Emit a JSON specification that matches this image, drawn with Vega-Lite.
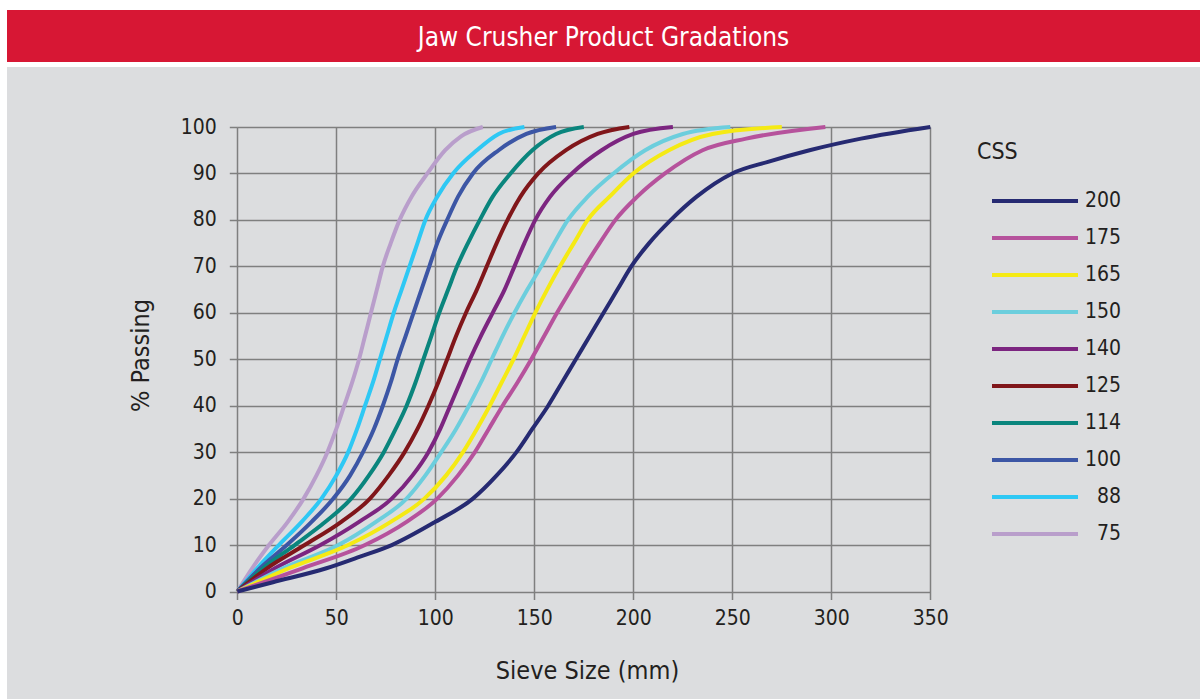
{
  "$schema": "https://vega.github.io/schema/vega-lite/v6.json",
  "background": "white",
  "padding": {"left": 7, "top": 10, "right": 0, "bottom": 0},
  "spacing": 5,
  "config": {"view": {"stroke": null}, "font": "Liberation Sans Narrow, DejaVu Sans Condensed, sans-serif"},
  "vconcat": [
    {
      "width": 1193,
      "height": 52,
      "view": {"fill": "#d71734", "stroke": null},
      "data": {"values": [{"t": "Jaw Crusher Product Gradations"}]},
      "mark": {"type": "text", "color": "white", "fontSize": 26, "dy": 2, "font": "Liberation Sans Narrow, DejaVu Sans Condensed, sans-serif", "baseline": "middle", "align": "center"},
      "encoding": {"text": {"field": "t", "type": "nominal"}}
    },
    {
      "width": 1193,
      "height": 632,
      "view": {"fill": "#dcdddf", "stroke": null},
      "data": {"values": [
        {"css":"75","size":0,"passing":0},{"css":"75","size":7.5,"passing":5},{"css":"75","size":16,"passing":10},{"css":"75","size":25.5,"passing":15},{"css":"75","size":33.5,"passing":20},{"css":"75","size":40,"passing":25},{"css":"75","size":45.5,"passing":30},{"css":"75","size":50,"passing":35},{"css":"75","size":54,"passing":40},{"css":"75","size":58,"passing":45},{"css":"75","size":61.5,"passing":50},{"css":"75","size":64.5,"passing":55},{"css":"75","size":67.5,"passing":60},{"css":"75","size":70.5,"passing":65},{"css":"75","size":73.5,"passing":70},{"css":"75","size":77.5,"passing":75},{"css":"75","size":82,"passing":80},{"css":"75","size":88,"passing":85},{"css":"75","size":96,"passing":90},{"css":"75","size":105,"passing":95},{"css":"75","size":113,"passing":98},{"css":"75","size":124,"passing":100},
        {"css":"88","size":0,"passing":0},{"css":"88","size":10,"passing":5},{"css":"88","size":21,"passing":10},{"css":"88","size":32.5,"passing":15},{"css":"88","size":42.5,"passing":20},{"css":"88","size":50,"passing":25},{"css":"88","size":56,"passing":30},{"css":"88","size":60.5,"passing":35},{"css":"88","size":64.5,"passing":40},{"css":"88","size":68.5,"passing":45},{"css":"88","size":72,"passing":50},{"css":"88","size":75.5,"passing":55},{"css":"88","size":79,"passing":60},{"css":"88","size":83,"passing":65},{"css":"88","size":87,"passing":70},{"css":"88","size":91,"passing":75},{"css":"88","size":95,"passing":80},{"css":"88","size":101,"passing":85},{"css":"88","size":109,"passing":90},{"css":"88","size":121,"passing":95},{"css":"88","size":132,"passing":98.5},{"css":"88","size":145,"passing":100},
        {"css":"100","size":0,"passing":0},{"css":"100","size":11.5,"passing":5},{"css":"100","size":25,"passing":10},{"css":"100","size":37.5,"passing":15},{"css":"100","size":48.5,"passing":20},{"css":"100","size":57,"passing":25},{"css":"100","size":63.5,"passing":30},{"css":"100","size":69,"passing":35},{"css":"100","size":73.5,"passing":40},{"css":"100","size":77.5,"passing":45},{"css":"100","size":81,"passing":50},{"css":"100","size":85,"passing":55},{"css":"100","size":89,"passing":60},{"css":"100","size":93,"passing":65},{"css":"100","size":97,"passing":70},{"css":"100","size":101,"passing":75},{"css":"100","size":106,"passing":80},{"css":"100","size":111.5,"passing":85},{"css":"100","size":119,"passing":90},{"css":"100","size":132,"passing":95},{"css":"100","size":146,"passing":98.5},{"css":"100","size":161,"passing":100},
        {"css":"114","size":0,"passing":0},{"css":"114","size":13,"passing":5},{"css":"114","size":29,"passing":10},{"css":"114","size":44.5,"passing":15},{"css":"114","size":57.5,"passing":20},{"css":"114","size":66.5,"passing":25},{"css":"114","size":74,"passing":30},{"css":"114","size":80,"passing":35},{"css":"114","size":85.5,"passing":40},{"css":"114","size":90,"passing":45},{"css":"114","size":94,"passing":50},{"css":"114","size":98,"passing":55},{"css":"114","size":102,"passing":60},{"css":"114","size":106.5,"passing":65},{"css":"114","size":111,"passing":70},{"css":"114","size":116.5,"passing":75},{"css":"114","size":122.5,"passing":80},{"css":"114","size":129,"passing":85},{"css":"114","size":138,"passing":90},{"css":"114","size":149,"passing":95},{"css":"114","size":161,"passing":98.5},{"css":"114","size":175,"passing":100},
        {"css":"125","size":0,"passing":0},{"css":"125","size":15,"passing":5},{"css":"125","size":34,"passing":10},{"css":"125","size":52.5,"passing":15},{"css":"125","size":67,"passing":20},{"css":"125","size":76.5,"passing":25},{"css":"125","size":84.5,"passing":30},{"css":"125","size":91,"passing":35},{"css":"125","size":96.5,"passing":40},{"css":"125","size":101.5,"passing":45},{"css":"125","size":106,"passing":50},{"css":"125","size":110.5,"passing":55},{"css":"125","size":115.5,"passing":60},{"css":"125","size":121,"passing":65},{"css":"125","size":126,"passing":70},{"css":"125","size":131,"passing":75},{"css":"125","size":136.5,"passing":80},{"css":"125","size":143,"passing":85},{"css":"125","size":152,"passing":90},{"css":"125","size":166,"passing":95},{"css":"125","size":182,"passing":98.5},{"css":"125","size":198,"passing":100},
        {"css":"140","size":0,"passing":0},{"css":"140","size":19,"passing":5},{"css":"140","size":42,"passing":10},{"css":"140","size":61.5,"passing":15},{"css":"140","size":78,"passing":20},{"css":"140","size":88.5,"passing":25},{"css":"140","size":96.5,"passing":30},{"css":"140","size":102.5,"passing":35},{"css":"140","size":107.5,"passing":40},{"css":"140","size":112.5,"passing":45},{"css":"140","size":117.5,"passing":50},{"css":"140","size":123,"passing":55},{"css":"140","size":129,"passing":60},{"css":"140","size":135,"passing":65},{"css":"140","size":140,"passing":70},{"css":"140","size":145,"passing":75},{"css":"140","size":150.5,"passing":80},{"css":"140","size":158,"passing":85},{"css":"140","size":169,"passing":90},{"css":"140","size":184,"passing":95},{"css":"140","size":200,"passing":98.5},{"css":"140","size":220,"passing":100},
        {"css":"150","size":0,"passing":0},{"css":"150","size":23,"passing":5},{"css":"150","size":51,"passing":10},{"css":"150","size":70,"passing":15},{"css":"150","size":85.5,"passing":20},{"css":"150","size":95,"passing":25},{"css":"150","size":103,"passing":30},{"css":"150","size":110.5,"passing":35},{"css":"150","size":117,"passing":40},{"css":"150","size":123,"passing":45},{"css":"150","size":128.5,"passing":50},{"css":"150","size":134,"passing":55},{"css":"150","size":140,"passing":60},{"css":"150","size":146.5,"passing":65},{"css":"150","size":153.5,"passing":70},{"css":"150","size":160,"passing":75},{"css":"150","size":167,"passing":80},{"css":"150","size":177,"passing":85},{"css":"150","size":190,"passing":90},{"css":"150","size":206,"passing":95},{"css":"150","size":225,"passing":98.5},{"css":"150","size":249,"passing":100},
        {"css":"165","size":0,"passing":0},{"css":"165","size":26,"passing":5},{"css":"165","size":56,"passing":10},{"css":"165","size":77.5,"passing":15},{"css":"165","size":94.5,"passing":20},{"css":"165","size":105.5,"passing":25},{"css":"165","size":114,"passing":30},{"css":"165","size":121,"passing":35},{"css":"165","size":127.5,"passing":40},{"css":"165","size":133.5,"passing":45},{"css":"165","size":139.5,"passing":50},{"css":"165","size":145,"passing":55},{"css":"165","size":150.5,"passing":60},{"css":"165","size":156.5,"passing":65},{"css":"165","size":163,"passing":70},{"css":"165","size":170,"passing":75},{"css":"165","size":177,"passing":80},{"css":"165","size":188,"passing":85},{"css":"165","size":200,"passing":90},{"css":"165","size":218,"passing":95},{"css":"165","size":240,"passing":98.5},{"css":"165","size":275,"passing":100},
        {"css":"175","size":0,"passing":0},{"css":"175","size":33,"passing":5},{"css":"175","size":64.5,"passing":10},{"css":"175","size":85.5,"passing":15},{"css":"175","size":101,"passing":20},{"css":"175","size":111.5,"passing":25},{"css":"175","size":120,"passing":30},{"css":"175","size":127,"passing":35},{"css":"175","size":134,"passing":40},{"css":"175","size":141.5,"passing":45},{"css":"175","size":148.5,"passing":50},{"css":"175","size":155,"passing":55},{"css":"175","size":161.5,"passing":60},{"css":"175","size":168.5,"passing":65},{"css":"175","size":175.5,"passing":70},{"css":"175","size":183,"passing":75},{"css":"175","size":191,"passing":80},{"css":"175","size":202,"passing":85},{"css":"175","size":216,"passing":90},{"css":"175","size":235,"passing":95},{"css":"175","size":257,"passing":97.5},{"css":"175","size":297,"passing":100},
        {"css":"200","size":0,"passing":0},{"css":"200","size":18,"passing":2},{"css":"200","size":45,"passing":5},{"css":"200","size":62,"passing":7.5},{"css":"200","size":78,"passing":10},{"css":"200","size":100,"passing":15},{"css":"200","size":119,"passing":20},{"css":"200","size":131,"passing":25},{"css":"200","size":141,"passing":30},{"css":"200","size":149,"passing":35},{"css":"200","size":157,"passing":40},{"css":"200","size":164,"passing":45},{"css":"200","size":171,"passing":50},{"css":"200","size":178,"passing":55},{"css":"200","size":185,"passing":60},{"css":"200","size":192,"passing":65},{"css":"200","size":199,"passing":70},{"css":"200","size":208,"passing":75},{"css":"200","size":219,"passing":80},{"css":"200","size":232,"passing":85},{"css":"200","size":250,"passing":90},{"css":"200","size":268,"passing":92.5},{"css":"200","size":289,"passing":95},{"css":"200","size":315,"passing":97.5},{"css":"200","size":350,"passing":100}
      ]},
      "resolve": {"axis": {"x": "independent"}},
      "layer": [
        {
          "mark": {"type": "line", "strokeOpacity": 0, "interpolate": "monotone"},
          "encoding": {
            "detail": {"field": "css", "type": "nominal"},
            "x": {
              "field": "size", "type": "quantitative",
              "scale": {"domain": [0, 350], "range": [230.3, 923.3], "nice": false},
              "axis": {
                "orient": "top", "values": [0, 50, 100, 150, 200, 250, 300, 350],
                "offset": -524.5, "grid": true, "gridColor": "#7f7f7f", "gridWidth": 1.5,
                "domain": false, "ticks": false, "labels": false, "title": null
              }
            },
            "y": {
              "field": "passing", "type": "quantitative",
              "scale": {"domain": [0, 100], "range": [524.5, 60], "nice": false},
              "axis": {
                "values": [0, 10, 20, 30, 40, 50, 60, 70, 80, 90, 100],
                "offset": -230.3, "grid": true, "gridColor": "#7f7f7f", "gridWidth": 1.5,
                "domain": false, "ticks": true, "tickSize": 8, "tickColor": "#7f7f7f", "tickWidth": 1.5,
                "labelFontSize": 21, "labelColor": "#231f20", "labelPadding": 13, "labelFlush": false,
                "title": "% Passing", "titleFontSize": 25, "titleFontWeight": "normal", "titleColor": "#231f20",
                "titleX": -97, "titleY": 288, "titleAngle": -90, "titleBaseline": "middle", "titleAlign": "center"
              }
            }
          }
        },
        {
          "mark": {"type": "line", "interpolate": "monotone", "strokeWidth": 4},
          "encoding": {
            "x": {
              "field": "size", "type": "quantitative",
              "scale": {"domain": [0, 350], "range": [230.3, 923.3], "nice": false},
              "axis": {
                "orient": "bottom", "values": [0, 50, 100, 150, 200, 250, 300, 350],
                "offset": -107.5, "grid": false,
                "domain": false, "ticks": true, "tickSize": 8, "tickColor": "#7f7f7f", "tickWidth": 1.5,
                "labelFontSize": 21, "labelColor": "#231f20", "labelPadding": 8, "labelFlush": false,
                "title": "Sieve Size (mm)", "titleFontSize": 25, "titleFontWeight": "normal", "titleColor": "#231f20",
                "titleX": 580, "titleY": 79, "titleBaseline": "middle", "titleAlign": "center"
              }
            },
            "y": {
              "field": "passing", "type": "quantitative",
              "scale": {"domain": [0, 100], "range": [524.5, 60], "nice": false},
              "axis": {
                "values": [0, 10, 20, 30, 40, 50, 60, 70, 80, 90, 100],
                "offset": -230.3, "grid": true, "gridColor": "#7f7f7f", "gridWidth": 1.5,
                "domain": false, "ticks": true, "tickSize": 8, "tickColor": "#7f7f7f", "tickWidth": 1.5,
                "labelFontSize": 21, "labelColor": "#231f20", "labelPadding": 13, "labelFlush": false,
                "title": "% Passing", "titleFontSize": 25, "titleFontWeight": "normal", "titleColor": "#231f20",
                "titleX": -97, "titleY": 288, "titleAngle": -90, "titleBaseline": "middle", "titleAlign": "center"
              }
            },
            "color": {
              "field": "css", "type": "nominal",
              "scale": {
                "domain": ["200", "175", "165", "150", "140", "125", "114", "100", "88", "75"],
                "range": ["#262a72", "#b6529c", "#f5ea14", "#6ccedd", "#7c2580", "#80161a", "#0a857d", "#3c56a5", "#2ec8f4", "#b99ecb"]
              },
              "legend": {
                "orient": "none", "legendX": 970, "legendY": 131,
                "title": "CSS", "titleFontSize": 23, "titleFontWeight": "normal", "titleColor": "#231f20", "titlePadding": 27,
                "symbolType": "stroke", "symbolSize": 7396, "symbolStrokeWidth": 4, "symbolOffset": 13,
                "clipHeight": 20, "rowPadding": 16,
                "labelFontSize": 21, "labelColor": "#231f20", "labelAlign": "right", "labelOffset": 41, "labelLimit": 200
              }
            }
          }
        }
      ]
    }
  ]
}
